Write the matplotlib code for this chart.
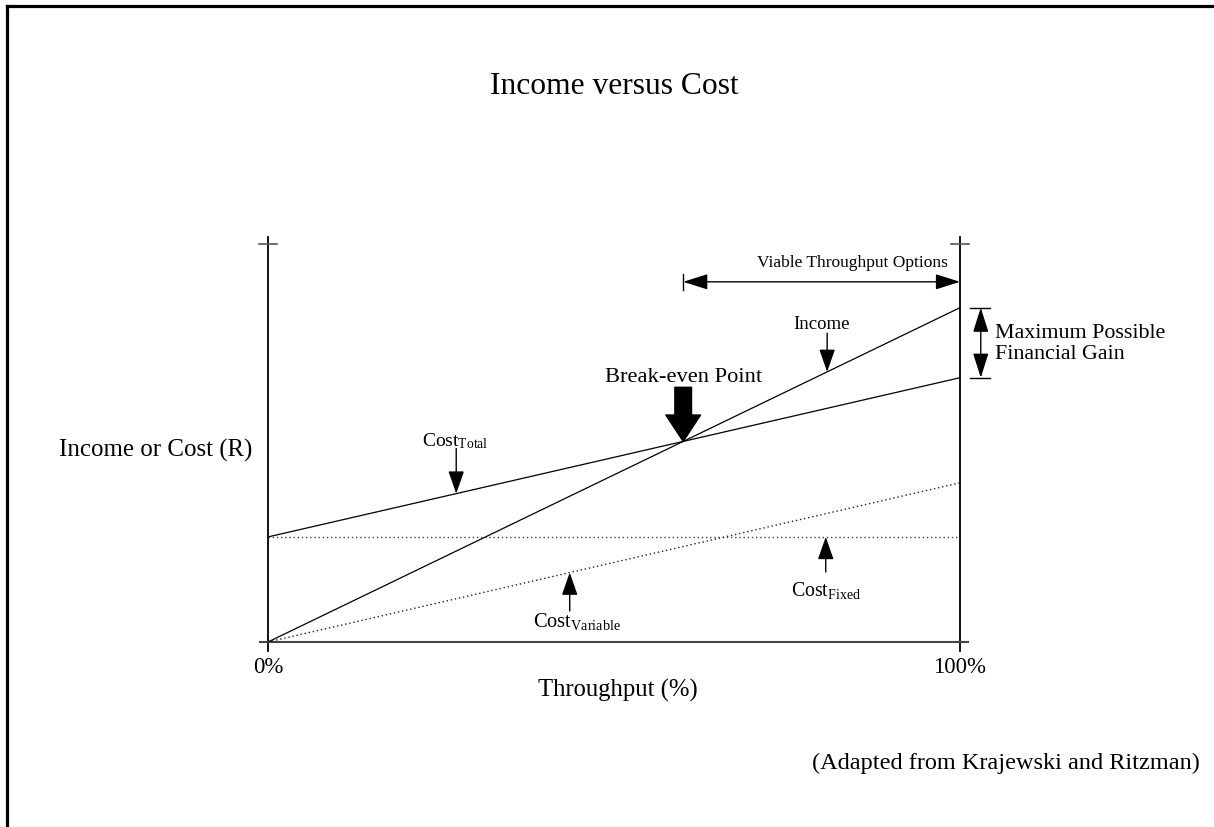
import matplotlib
matplotlib.use("Agg")
import matplotlib.pyplot as plt
from matplotlib.lines import Line2D

plt.rcParams['font.family'] = ['Liberation Serif', 'DejaVu Serif']
plt.rcParams['mathtext.fontset'] = 'custom'
plt.rcParams['mathtext.rm'] = 'Liberation Serif'
plt.rcParams['mathtext.it'] = 'Liberation Serif:italic'

# ---- data ----
throughput = [0, 100]            # %
income = [0, 84]                 # R
cost_fixed = [26.4, 26.4]
cost_variable = [0, 40]
cost_total = [26.4, 66.4]
break_even = 60                  # % throughput where income == total cost
x_tick_labels = ['0%', '100%']

W, H = 1214, 828
fig = plt.figure(figsize=(W / 100, H / 100), dpi=100)

# frame around figure (cropped on right/bottom)
fig.add_artist(Line2D([7 / W, 7 / W], [0, 1 - 7 / H], color='black', lw=2.3, transform=fig.transFigure))
fig.add_artist(Line2D([7 / W, 1], [1 - 7 / H, 1 - 7 / H], color='black', lw=2.3, transform=fig.transFigure))

ax = fig.add_axes([268 / W, 185 / H, 692 / W, 398 / H])
ax.set_xlim(0, 100)
ax.set_ylim(0, 100)
ax.axis('off')

# axes lines with crosses
ax.plot([0, 0], [-2.2, 101.8], color='black', lw=1.3, clip_on=False)
ax.plot([100, 100], [-2.2, 101.8], color='black', lw=1.3, clip_on=False)
ax.plot([-1.1, 101.1], [0, 0], color='#444444', lw=1.5, clip_on=False)
ax.plot([-1.3, 1.3], [100, 100], color='#555555', lw=1.2, clip_on=False)
ax.plot([98.7, 101.3], [100, 100], color='#555555', lw=1.2, clip_on=False)

# series
ax.plot(throughput, income, color='black', lw=0.9)
ax.plot(throughput, cost_total, color='black', lw=0.9)
ax.plot(throughput, cost_fixed, color='#444444', lw=1.0, ls=(0, (1, 2)))
ax.plot(throughput, cost_variable, color='#222222', lw=1.0, ls=(0, (1, 2)))

def val(series, x):
    return series[0] + (series[1] - series[0]) * x / 100.0

arrow_kw = dict(arrowstyle='-|>,head_length=1.0,head_width=0.35', color='black', lw=1.0,
                shrinkA=0, shrinkB=0, mutation_scale=14)

# Income label
ax.annotate('', xy=(80.8, val(income, 80.8)), xytext=(80.8, 77.6), arrowprops=arrow_kw)
ax.text(80.0, 80.0, 'Income', ha='center', va='center', fontsize=13.5)

# Cost total
ax.annotate('', xy=(27.2, val(cost_total, 27.2)), xytext=(27.2, 48.6), arrowprops=arrow_kw)
ax.text(27.1, 50.8, r'Cost$_{\mathrm{Total}}$', ha='center', va='center', fontsize=14)

# Cost variable
ax.annotate('', xy=(43.6, val(cost_variable, 43.6)), xytext=(43.6, 7.8), arrowprops=arrow_kw)
ax.text(44.6, 5.3, r'Cost$_{\mathrm{Variable}}$', ha='center', va='center', fontsize=14.7)

# Cost fixed
ax.annotate('', xy=(80.6, cost_fixed[0]), xytext=(80.6, 17.6), arrowprops=arrow_kw)
ax.text(80.6, 13.3, r'Cost$_{\mathrm{Fixed}}$', ha='center', va='center', fontsize=14.3)

# Break-even point
be_y = val(income, break_even)
ax.annotate('', xy=(break_even, be_y), xytext=(break_even, 64.0),
            arrowprops=dict(arrowstyle='simple,head_length=0.95,head_width=1.25,tail_width=0.6',
                            color='black', shrinkA=0, shrinkB=0, mutation_scale=20))
ax.text(break_even, 66.7, 'Break-even Point', ha='center', va='center', fontsize=16.2)

# Viable throughput options
ax.annotate('', xy=(break_even, 90.5), xytext=(100, 90.5),
            arrowprops=dict(arrowstyle='<|-|>,head_length=0.95,head_width=0.3', color='black',
                            lw=1.0, shrinkA=0, shrinkB=0, mutation_scale=16), annotation_clip=False)
ax.plot([break_even, break_even], [88.4, 92.5], color='black', lw=1.0)
ax.text(84.5, 95.5, 'Viable Throughput Options', ha='center', va='center', fontsize=12.5)

# Maximum possible financial gain
ax.annotate('', xy=(103, income[1]), xytext=(103, cost_total[1]),
            arrowprops=dict(arrowstyle='<|-|>,head_length=0.95,head_width=0.3', color='black',
                            lw=1.0, shrinkA=0, shrinkB=0, mutation_scale=16), annotation_clip=False)
ax.plot([101.5, 104.4], [income[1], income[1]], color='black', lw=1.0, clip_on=False)
ax.plot([101.5, 104.4], [cost_total[1], cost_total[1]], color='black', lw=1.0, clip_on=False)
ax.text(105.1, 75.2, 'Maximum Possible\nFinancial Gain', ha='left', va='center', fontsize=15.8,
        linespacing=1.12)

# axis labels
ax.text(-16.2, 48.5, 'Income or Cost (R)', ha='center', va='center', fontsize=17.9)
ax.text(throughput[0], -6.2, x_tick_labels[0], ha='center', va='center', fontsize=16.5)
ax.text(throughput[1], -6.2, x_tick_labels[1], ha='center', va='center', fontsize=16.5)
ax.text(50.6, -11.9, 'Throughput (%)', ha='center', va='center', fontsize=17.7)

fig.text(614 / W, 1 - 86 / H, 'Income versus Cost', ha='center', va='center', fontsize=22.7)
fig.text(1200 / W, 1 - 763 / H, '(Adapted from Krajewski and Ritzman)', ha='right', va='center',
         fontsize=17.5)

fig.savefig('out.png', dpi=100)
